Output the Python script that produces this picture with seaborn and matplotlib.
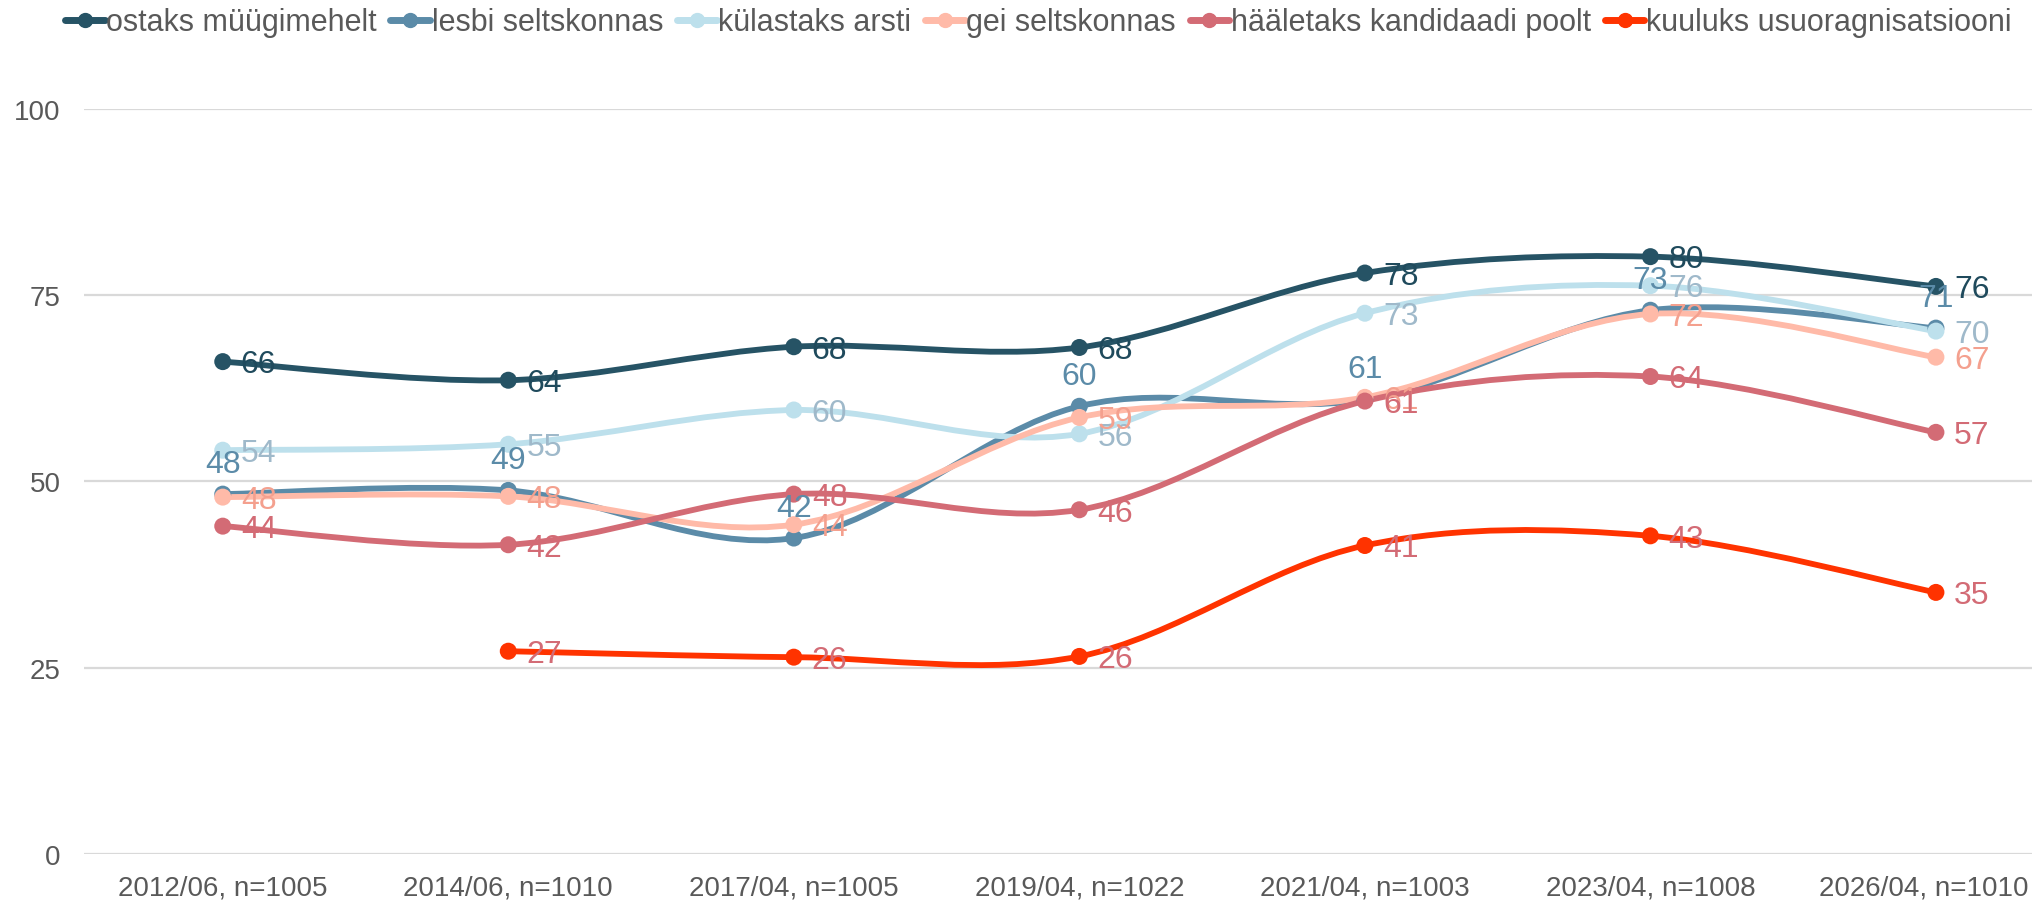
import numpy as np
import pandas as pd
import matplotlib
matplotlib.use("Agg")
import matplotlib.pyplot as plt
import matplotlib.transforms as mtransforms
from matplotlib.path import Path
from matplotlib.patches import PathPatch
from matplotlib.lines import Line2D
import seaborn as sns

waves = ["2012/06, n=1005", "2014/06, n=1010", "2017/04, n=1005", "2019/04, n=1022",
         "2021/04, n=1003", "2023/04, n=1008", "2026/04, n=1010"]

ostaks = [66.1, 63.6, 68.1, 68.0, 78.0, 80.2, 76.2]
lesbi = [48.3, 48.8, 42.4, 60.1, 61.0, 73.0, 70.6]
kylastaks = [54.2, 55.0, 59.6, 56.4, 72.6, 76.3, 70.2]
gei = [47.9, 48.0, 44.2, 58.6, 61.3, 72.5, 66.7]
haaletaks = [44.0, 41.5, 48.3, 46.2, 60.8, 64.1, 56.6]
kuuluks = [None, 27.2, 26.4, 26.5, 41.4, 42.7, 35.1]

series_names = ["ostaks müügimehelt", "lesbi seltskonnas", "külastaks arsti",
                "gei seltskonnas", "hääletaks kandidaadi poolt", "kuuluks usuoragnisatsiooni"]
series_vals = [ostaks, lesbi, kylastaks, gei, haaletaks, kuuluks]
line_colors = ["#265365", "#5B8BA8", "#BDE0EC", "#FFBAA8", "#D36B75", "#FF3300"]
label_colors = ["#1F4A5C", "#5B8BA8", "#9FB9CA", "#F4A08E", "#D36B75", "#D36B75"]
label_above = [False, True, False, False, False, False]

sns.set_theme(style="white")
plt.rcParams['font.family'] = ['Liberation Sans', 'DejaVu Sans']

fig = plt.figure(figsize=(20.33, 9.04), dpi=100)
ax = fig.add_axes([65 / 1568, 1 - 659 / 697, 1 - 65 / 1568, (659 - 85) / 697])

# long table for the markers
rows = []
for name, vals in zip(series_names, series_vals):
    for i, v in enumerate(vals):
        if v is not None:
            rows.append({"wave": i, "value": v, "series": name})
df = pd.DataFrame(rows)


def smooth_path(xs, ys):
    # excel-like smoothed line, bezier segments
    pts = np.column_stack([xs, ys])
    n = len(pts)
    verts = [pts[0]]
    codes = [Path.MOVETO]
    for i in range(n - 1):
        p0 = pts[i - 1] if i > 0 else pts[i]
        p1 = pts[i]
        p2 = pts[i + 1]
        p3 = pts[i + 2] if i + 2 < n else pts[i + 1]
        c1 = p1 + (p2 - p0) / 6
        c2 = p2 - (p3 - p1) / 6
        verts += [c1, c2, p2]
        codes += [Path.CURVE4] * 3
    return Path(verts, codes)


for name, vals, col in zip(series_names, series_vals, line_colors):
    xs = [i for i, v in enumerate(vals) if v is not None]
    ys = [v for v in vals if v is not None]
    patch = PathPatch(smooth_path(xs, ys), fill=False, edgecolor=col, lw=4.2,
                      capstyle="round", joinstyle="round", zorder=3)
    ax.add_patch(patch)

sns.scatterplot(data=df, x="wave", y="value", hue="series", hue_order=series_names,
                palette=line_colors, s=150, edgecolor="none", legend=False, ax=ax, zorder=4)

for vals, lc, above in zip(series_vals, label_colors, label_above):
    for i, v in enumerate(vals):
        if v is None:
            continue
        txt = f"{v:.0f}"
        if above:
            ax.annotate(txt, (i, v), xytext=(0, 11), textcoords="offset points",
                        ha="center", va="bottom", fontsize=23, color=lc, zorder=5)
        else:
            ax.annotate(txt, (i, v), xytext=(13, -2), textcoords="offset points",
                        ha="left", va="center", fontsize=23, color=lc, zorder=5)

ax.set_xlim(-0.485, 6.34)
ax.set_ylim(0, 100)
ax.set_yticks([0, 25, 50, 75, 100])
ax.set_xticks(range(len(waves)))
ax.set_xticklabels(waves)
ax.tick_params(axis="both", length=0, labelsize=20, colors="#595959")
ax.tick_params(axis="y", pad=17)
ax.tick_params(axis="x", pad=15)
ax.grid(axis="y", color="#D9D9D9", lw=1.6)
ax.grid(axis="x", visible=False)
for s in ax.spines.values():
    s.set_visible(False)
ax.set_xlabel("")
ax.set_ylabel("")

# last category label is pushed left a bit so it stays inside the figure
last = ax.get_xticklabels()[-1]
last.set_transform(last.get_transform() + mtransforms.ScaledTranslation(-12 / 100, 0, fig.dpi_scale_trans))

handles = [Line2D([0], [0], color=c, lw=5, marker="o", markersize=10, solid_capstyle="round")
           for c in line_colors]
fig.legend(handles, series_names, loc="center left", bbox_to_anchor=(50 / 1568, 1 - 18 / 697),
           ncol=6, frameon=False, fontsize=22, labelcolor="#595959", handlelength=1.3,
           handletextpad=0.05, columnspacing=0.45, borderaxespad=0, borderpad=0)

fig.savefig("out.png", dpi=100)
